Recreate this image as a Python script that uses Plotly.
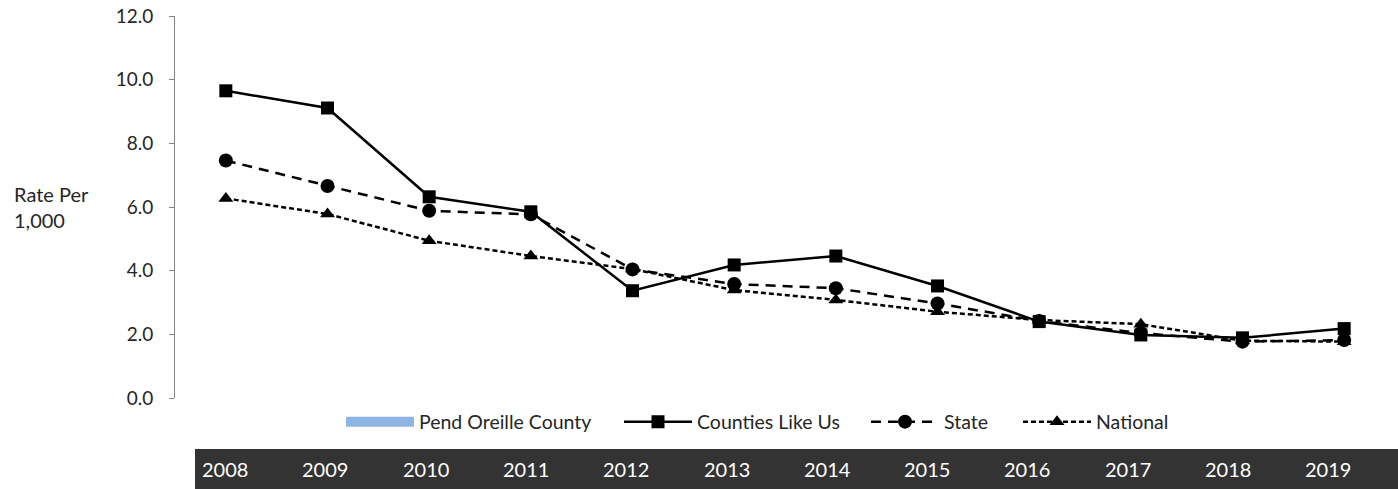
import plotly.graph_objects as go

years = ["2008", "2009", "2010", "2011", "2012", "2013", "2014", "2015", "2016", "2017", "2018", "2019"]
pend_oreille = [None] * 12
counties_like_us = [9.65, 9.11, 6.32, 5.85, 3.37, 4.18, 4.46, 3.52, 2.40, 1.98, 1.89, 2.18]
state = [7.46, 6.66, 5.88, 5.77, 4.04, 3.58, 3.45, 2.97, 2.42, 2.04, 1.77, 1.82]
national = [6.27, 5.78, 4.94, 4.46, 4.05, 3.39, 3.08, 2.71, 2.45, 2.32, 1.80, 1.77]
y_ticks = [0, 2, 4, 6, 8, 10, 12]

FONT = "Lato"
W, H = 1398, 489
ML, MR, MT, MB = 175, 3, 16, 91
PW = W - ML - MR
PH = H - MT - MB


def px_x(p):
    return (p - ML) / PW


def px_y(p):
    return (H - MB - p) / PH


fig = go.Figure()
fig.add_trace(go.Scatter(x=years, y=pend_oreille, name="Pend Oreille County", mode="lines",
                         line=dict(color="#8EB4E3", width=10), legend="legend"))
fig.add_trace(go.Scatter(x=years, y=counties_like_us, name="Counties Like Us", mode="lines+markers",
                         line=dict(color="black", width=2.5),
                         marker=dict(symbol="square", size=13, color="black"), legend="legend2"))
fig.add_trace(go.Scatter(x=years, y=state, name="State", mode="lines+markers",
                         line=dict(color="black", width=2.5, dash="10px,7px"),
                         marker=dict(symbol="circle", size=14, color="black"), legend="legend3"))
fig.add_trace(go.Scatter(x=years, y=national, name="National", mode="lines+markers",
                         line=dict(color="black", width=2.5, dash="5px,3px"),
                         marker=dict(symbol="triangle-up", size=13, color="black"), legend="legend4"))

# dark year band
band_left = 195
fig.add_shape(type="rect", xref="paper", yref="paper",
              x0=px_x(band_left), x1=px_x(W), y0=px_y(H), y1=px_y(449),
              fillcolor="#333333", line=dict(width=0), layer="below")
col_w = 100.3
for i, yr in enumerate(years):
    fig.add_annotation(text=yr, xref="paper", yref="paper",
                       x=px_x(band_left + 5 + i * col_w), y=px_y(469),
                       xanchor="left", yanchor="middle", showarrow=False,
                       font=dict(family=FONT, size=20, color="white"))

fig.add_annotation(text="Rate Per<br>1,000", xref="paper", yref="paper",
                   x=px_x(12), y=px_y(207), xanchor="left", yanchor="middle",
                   align="left", showarrow=False,
                   font=dict(family=FONT, size=20, color="#262626"))

leg_common = dict(orientation="h", xanchor="left", y=px_y(422), yanchor="middle",
                  itemwidth=68, font=dict(family=FONT, size=19.5, color="#262626"),
                  bgcolor="rgba(0,0,0,0)")

fig.update_layout(
    width=W, height=H,
    margin=dict(l=ML, r=MR, t=MT, b=MB),
    paper_bgcolor="white", plot_bgcolor="white",
    font=dict(family=FONT, size=19, color="#262626"),
    xaxis=dict(type="category", range=[-0.5, 11.5], showticklabels=False, showgrid=False,
               zeroline=False, showline=False, ticks=""),
    yaxis=dict(range=[0, 12], tickvals=y_ticks, tickformat=".1f", showgrid=False, zeroline=False,
               showline=True, linecolor="#868686", linewidth=1, ticks="outside", ticklen=5,
               tickcolor="#868686", ticklabelstandoff=12),
    legend=dict(x=px_x(341), **leg_common),
    legend2=dict(x=px_x(619), **leg_common),
    legend3=dict(x=px_x(866), **leg_common),
    legend4=dict(x=px_x(1018), **leg_common),
    showlegend=True,
)

fig.write_html("out.html", config={"displayModeBar": False},
               post_script="document.body.style.margin='0px';")
